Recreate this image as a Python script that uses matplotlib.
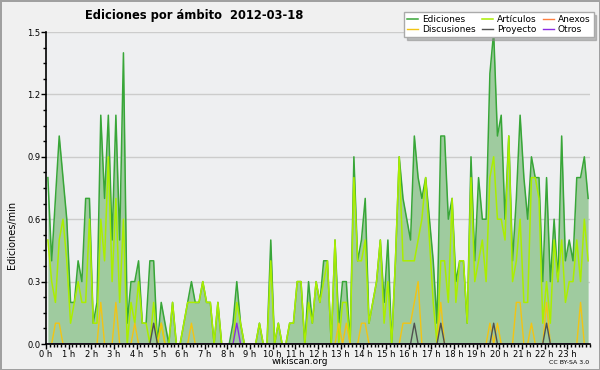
import numpy as np
import matplotlib
matplotlib.use("Agg")
import matplotlib.pyplot as plt
from matplotlib.ticker import MultipleLocator

# 10-minute bins (144 per day), values in edits/min
ediciones = [
    0.8, 0.4, 0.7, 1.0, 0.8, 0.6, 0.2, 0.2, 0.4, 0.3, 0.7, 0.7,   # 0h-2h
    0.1, 0.2, 1.1, 0.7, 1.1, 0.5, 1.1, 0.5, 1.4, 0.1, 0.3, 0.3,   # 2h-4h
    0.4, 0.1, 0.1, 0.4, 0.4, 0.0, 0.2, 0.1, 0.0, 0.2, 0.0, 0.0,   # 4h-6h
    0.1, 0.2, 0.3, 0.2, 0.2, 0.3, 0.2, 0.2, 0.0, 0.2, 0.0, 0.0,   # 6h-8h
    0.0, 0.1, 0.3, 0.1, 0.0, 0.0, 0.0, 0.0, 0.1, 0.0, 0.0, 0.5,   # 8h-10h
    0.0, 0.1, 0.0, 0.0, 0.1, 0.1, 0.3, 0.3, 0.0, 0.3, 0.1, 0.3,   # 10h-12h
    0.2, 0.4, 0.4, 0.0, 0.5, 0.1, 0.3, 0.3, 0.0, 0.9, 0.4, 0.5,   # 12h-14h
    0.7, 0.1, 0.2, 0.3, 0.5, 0.2, 0.5, 0.0, 0.4, 0.9, 0.7, 0.6,   # 14h-16h
    0.5, 1.0, 0.8, 0.7, 0.8, 0.6, 0.4, 0.1, 1.0, 1.0, 0.6, 0.7,   # 16h-18h
    0.3, 0.4, 0.4, 0.1, 0.9, 0.4, 0.8, 0.6, 0.6, 1.3, 1.5, 1.0,   # 18h-20h
    1.1, 0.6, 1.0, 0.4, 0.7, 1.1, 0.8, 0.6, 0.9, 0.8, 0.8, 0.3,   # 20h-22h
    0.8, 0.3, 0.6, 0.3, 1.0, 0.4, 0.5, 0.4, 0.8, 0.8, 0.9, 0.7,   # 22h-24h
]
articulos = [
    0.5, 0.3, 0.2, 0.5, 0.6, 0.4, 0.1, 0.2, 0.3, 0.2, 0.2, 0.6,
    0.1, 0.1, 0.6, 0.4, 0.9, 0.3, 0.7, 0.2, 0.6, 0.0, 0.2, 0.1,
    0.3, 0.1, 0.1, 0.0, 0.2, 0.0, 0.1, 0.0, 0.0, 0.2, 0.0, 0.0,
    0.1, 0.2, 0.2, 0.2, 0.2, 0.3, 0.2, 0.2, 0.0, 0.2, 0.0, 0.0,
    0.0, 0.0, 0.2, 0.1, 0.0, 0.0, 0.0, 0.0, 0.1, 0.0, 0.0, 0.4,
    0.0, 0.1, 0.0, 0.0, 0.1, 0.1, 0.3, 0.3, 0.0, 0.2, 0.1, 0.3,
    0.2, 0.3, 0.4, 0.0, 0.5, 0.0, 0.2, 0.2, 0.0, 0.8, 0.4, 0.4,
    0.5, 0.1, 0.2, 0.3, 0.5, 0.1, 0.3, 0.0, 0.4, 0.9, 0.4, 0.4,
    0.4, 0.4, 0.5, 0.6, 0.8, 0.5, 0.2, 0.0, 0.4, 0.4, 0.2, 0.7,
    0.2, 0.4, 0.4, 0.1, 0.8, 0.3, 0.4, 0.5, 0.3, 0.8, 0.9, 0.6,
    0.6, 0.5, 1.0, 0.3, 0.4, 0.6, 0.2, 0.2, 0.8, 0.8, 0.7, 0.1,
    0.3, 0.1, 0.5, 0.3, 0.5, 0.2, 0.3, 0.3, 0.5, 0.3, 0.6, 0.4,
]
anexos = [0.0] * 144
discusiones = [
    0.0, 0.0, 0.1, 0.1, 0.0, 0.0, 0.0, 0.0, 0.0, 0.0, 0.0, 0.0,
    0.0, 0.0, 0.2, 0.0, 0.0, 0.0, 0.2, 0.0, 0.0, 0.0, 0.0, 0.1,
    0.0, 0.0, 0.0, 0.0, 0.0, 0.0, 0.1, 0.0, 0.0, 0.0, 0.0, 0.0,
    0.0, 0.0, 0.1, 0.0, 0.0, 0.0, 0.0, 0.0, 0.0, 0.0, 0.0, 0.0,
    0.0, 0.0, 0.0, 0.0, 0.0, 0.0, 0.0, 0.0, 0.0, 0.0, 0.0, 0.0,
    0.0, 0.0, 0.0, 0.0, 0.0, 0.0, 0.0, 0.0, 0.0, 0.0, 0.0, 0.0,
    0.0, 0.0, 0.0, 0.0, 0.0, 0.1, 0.0, 0.1, 0.0, 0.0, 0.0, 0.1,
    0.1, 0.0, 0.0, 0.0, 0.0, 0.0, 0.0, 0.0, 0.0, 0.0, 0.1, 0.1,
    0.1, 0.2, 0.3, 0.0, 0.0, 0.0, 0.0, 0.0, 0.2, 0.0, 0.0, 0.0,
    0.0, 0.0, 0.0, 0.0, 0.0, 0.0, 0.0, 0.0, 0.0, 0.1, 0.0, 0.1,
    0.0, 0.0, 0.0, 0.0, 0.2, 0.2, 0.0, 0.0, 0.1, 0.0, 0.0, 0.0,
    0.2, 0.0, 0.0, 0.0, 0.0, 0.0, 0.0, 0.0, 0.0, 0.2, 0.0, 0.0,
]
proyecto = [
    0.0, 0.0, 0.0, 0.0, 0.0, 0.0, 0.0, 0.0, 0.0, 0.0, 0.0, 0.0,
    0.0, 0.0, 0.0, 0.0, 0.0, 0.0, 0.0, 0.0, 0.0, 0.0, 0.0, 0.0,
    0.0, 0.0, 0.0, 0.0, 0.1, 0.0, 0.0, 0.0, 0.0, 0.0, 0.0, 0.0,
    0.0, 0.0, 0.0, 0.0, 0.0, 0.0, 0.0, 0.0, 0.0, 0.0, 0.0, 0.0,
    0.0, 0.0, 0.0, 0.0, 0.0, 0.0, 0.0, 0.0, 0.0, 0.0, 0.0, 0.0,
    0.0, 0.0, 0.0, 0.0, 0.0, 0.0, 0.0, 0.0, 0.0, 0.0, 0.0, 0.0,
    0.0, 0.0, 0.0, 0.0, 0.0, 0.0, 0.0, 0.0, 0.0, 0.0, 0.0, 0.0,
    0.0, 0.0, 0.0, 0.0, 0.0, 0.0, 0.0, 0.0, 0.0, 0.0, 0.0, 0.0,
    0.0, 0.1, 0.0, 0.0, 0.0, 0.0, 0.0, 0.0, 0.1, 0.0, 0.0, 0.0,
    0.0, 0.0, 0.0, 0.0, 0.0, 0.0, 0.0, 0.0, 0.0, 0.0, 0.1, 0.0,
    0.0, 0.0, 0.0, 0.0, 0.0, 0.0, 0.0, 0.0, 0.0, 0.0, 0.0, 0.0,
    0.1, 0.0, 0.0, 0.0, 0.0, 0.0, 0.0, 0.0, 0.0, 0.0, 0.0, 0.0,
]
otros = [
    0.0, 0.0, 0.0, 0.0, 0.0, 0.0, 0.0, 0.0, 0.0, 0.0, 0.0, 0.0,
    0.0, 0.0, 0.0, 0.0, 0.0, 0.0, 0.0, 0.0, 0.0, 0.0, 0.0, 0.0,
    0.0, 0.0, 0.0, 0.0, 0.0, 0.0, 0.0, 0.0, 0.0, 0.0, 0.0, 0.0,
    0.0, 0.0, 0.0, 0.0, 0.0, 0.0, 0.0, 0.0, 0.0, 0.0, 0.0, 0.0,
    0.0, 0.0, 0.1, 0.0, 0.0, 0.0, 0.0, 0.0, 0.0, 0.0, 0.0, 0.0,
    0.0, 0.0, 0.0, 0.0, 0.0, 0.0, 0.0, 0.0, 0.0, 0.0, 0.0, 0.0,
    0.0, 0.0, 0.0, 0.0, 0.0, 0.0, 0.0, 0.0, 0.0, 0.0, 0.0, 0.0,
    0.0, 0.0, 0.0, 0.0, 0.0, 0.0, 0.0, 0.0, 0.0, 0.0, 0.0, 0.0,
    0.0, 0.0, 0.0, 0.0, 0.0, 0.0, 0.0, 0.0, 0.0, 0.0, 0.0, 0.0,
    0.0, 0.0, 0.0, 0.0, 0.0, 0.0, 0.0, 0.0, 0.0, 0.0, 0.0, 0.0,
    0.0, 0.0, 0.0, 0.0, 0.0, 0.0, 0.0, 0.0, 0.0, 0.0, 0.0, 0.0,
    0.0, 0.0, 0.0, 0.0, 0.0, 0.0, 0.0, 0.0, 0.0, 0.0, 0.0, 0.0,
]
hour_labels = [f"{h} h" for h in range(24)]
y_tick_values = [0.0, 0.3, 0.6, 0.9, 1.2, 1.5]

x = (np.arange(len(ediciones)) + 0.5) / 6.0

plt.rcParams['font.family'] = ['DejaVu Sans']

fig = plt.figure(figsize=(6, 3.7), dpi=100)
fig.patch.set_facecolor('#f0f0f0')
fig.patch.set_edgecolor('#a0a0a0')
fig.patch.set_linewidth(2)

ax = fig.add_axes([46 / 600, 1 - 344 / 370, 544 / 600, 312 / 370])
ax.set_facecolor('#eeeff1')

ax.fill_between(x, ediciones, 0, color='#9fcb9f', linewidth=0, zorder=2)
ax.plot(x, ediciones, color='#38a638', lw=1.1, label='Ediciones', zorder=3)
ax.plot(x, articulos, color='#aaee00', lw=1.1, label='Artículos', zorder=4)
ax.plot(x, anexos, color='#ff7f40', lw=1.0, label='Anexos', zorder=4)
ax.plot(x, discusiones, color='#f2c414', lw=1.0, label='Discusiones', zorder=5)
ax.plot(x, proyecto, color='#505050', lw=1.0, label='Proyecto', zorder=6)
ax.plot(x, otros, color='#8a2be2', lw=1.0, label='Otros', zorder=6)

ax.set_xlim(0, 24)
ax.set_ylim(0, 1.5)
ax.set_xticks(range(24))
ax.set_xticklabels(hour_labels)
ax.xaxis.set_minor_locator(MultipleLocator(1 / 6))
ax.set_yticks(y_tick_values)
ax.set_yticklabels([f"{v:.1f}" for v in y_tick_values])
ax.yaxis.set_minor_locator(MultipleLocator(0.075))
ax.tick_params(axis='both', which='major', direction='out', length=3.5, width=1,
               labelsize=6, pad=0.5, colors='black')
ax.tick_params(axis='both', which='minor', direction='out', length=2.2, width=1)
ax.yaxis.grid(True, color='#cccccc', lw=1)
ax.set_axisbelow(True)
for s in ['top', 'right']:
    ax.spines[s].set_visible(False)
for s in ['left', 'bottom']:
    ax.spines[s].set_linewidth(1.2)
    ax.spines[s].set_zorder(10)

handles, labels = ax.get_legend_handles_labels()
order = ['Ediciones', 'Discusiones', 'Artículos', 'Proyecto', 'Anexos', 'Otros']
hmap = dict(zip(labels, handles))
leg = fig.legend([hmap[o] for o in order], order, ncol=3, loc='upper left',
                 bbox_to_anchor=(404 / 600, 1 - 12 / 370), fontsize=6.5,
                 frameon=True, fancybox=False, shadow={'color': '#888888'},
                 handlelength=1.2, handletextpad=0.45, columnspacing=0.7,
                 labelspacing=0.1, borderpad=0.35, borderaxespad=0)
leg.get_frame().set_edgecolor('#aaaaaa')
leg.get_frame().set_facecolor('white')

fig.text(85 / 600, 1 - 16 / 370, 'Ediciones por ámbito  2012-03-18',
         fontsize=8.3, fontweight='bold', ha='left', va='center')
fig.text(12 / 600, 1 - 235 / 370, 'Ediciones/min', rotation=90,
         fontsize=7, ha='center', va='center')
fig.text(300 / 600, 1 - 362 / 370, 'wikiscan.org', fontsize=6.5,
         ha='center', va='center')
fig.text(589 / 600, 1 - 363 / 370, 'CC BY-SA 3.0', fontsize=4.5,
         ha='right', va='center')

fig.savefig('out.png', dpi=100, facecolor=fig.get_facecolor(),
             edgecolor=fig.get_edgecolor())
